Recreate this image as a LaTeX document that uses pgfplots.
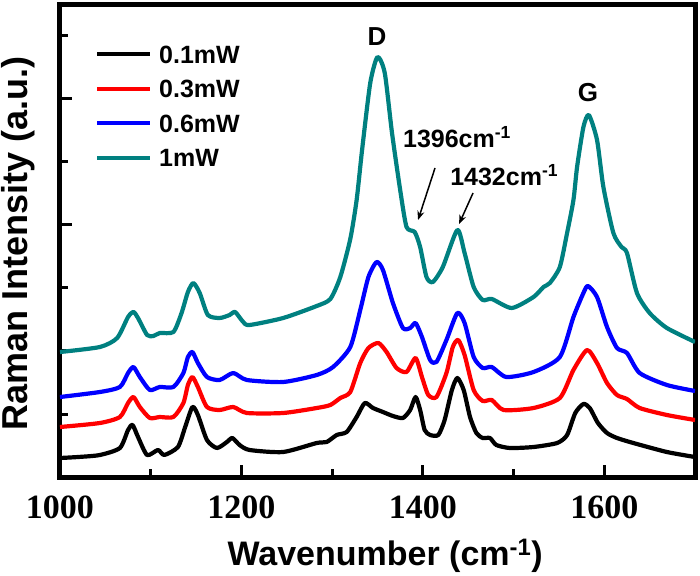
\documentclass[border=0pt]{standalone}
\usepackage{pgfplots}
\pgfplotsset{compat=1.18}
\usepackage{fontspec}
\setmainfont{Liberation Sans}
\newfontfamily\serifb{Liberation Serif}
\usetikzlibrary{arrows.meta}
\definecolor{tealc}{RGB}{0,128,128}
\begin{document}
\begin{tikzpicture}
\path[use as bounding box] (-60pt,-98pt) rectangle (640pt,477pt);
\begin{axis}[
 scale only axis, width=635pt, height=472pt,
 xmin=1000, xmax=1700, ymin=0, ymax=472,
 axis line style={line width=5pt},
 xtick={1000,1200,1400,1600}, minor xtick={1100,1300,1500},
 ytick={126,252,378}, minor ytick={63,189,315,441},
 yticklabels={},
 tick pos=left, tick align=inside,
 major tick length=12pt, minor tick length=8pt,
 tick style={black, line width=3pt},
 /pgf/number format/assume math mode=true,
 /pgf/number format/1000 sep={},
 xticklabel style={font=\serifb\bfseries\fontsize{34}{34}\selectfont, anchor=base, yshift=-41pt},
 xlabel={Wavenumber (cm\textsuperscript{-1})},
 ylabel={Raman Intensity (a.u.)},
 xlabel style={font=\bfseries\fontsize{34}{34}\selectfont, at={(axis description cs:0.512,-0.167)}, anchor=center},
 ylabel style={font=\bfseries\fontsize{36}{36}\selectfont, at={(axis description cs:-0.0654,0.4947)}, anchor=center},
 legend image code/.code={\draw[#1, line width=4pt] (0pt,0pt) -- (53pt,0pt);},
 legend cell align=left,
 legend style={at={(axis cs:1038.6,432)}, anchor=north west, draw=none, fill=none,
   inner xsep=0pt, inner ysep=0pt, row sep=16.5pt, column sep=7pt,
   font=\bfseries\fontsize{25}{25}\selectfont,
   nodes={inner sep=0pt, text height=18pt, text depth=0pt}},
 every axis plot/.append style={line width=4.2pt, line join=round, smooth, tension=0.4},
]
\addplot[black] coordinates {
(1000,19)(1020,20)(1044,22)(1066,29)(1075,47)(1080,52)(1086,40)(1096,22)(1108,27)(1115,22)
(1130,30)(1138,50)(1146,70)(1152,62)(1162,37)(1173,29)(1184,35)(1190,39)(1198,32)(1209,27)
(1246,25)(1283,34)(1294,35)(1305,42)(1316,45)(1327,60)(1336,74)(1345,69)(1356,65)(1367,61)
(1378,59)(1386,67)(1392,80)(1397,67)(1402,47)(1408,42)(1417,42)(1424,57)(1432,87)(1438,99)
(1445,87)(1452,60)(1459,44)(1466,39)(1474,39)(1481,32)(1496,29)(1522,30)(1548,34)(1559,42)
(1568,64)(1577,73)(1584,69)(1593,54)(1603,44)(1614,39)(1632,34)(1669,25)(1700,20)
};
\addlegendentry{0.1mW}
\addplot[red] coordinates {
(1000,50)(1044,54)(1066,60)(1075,74)(1081,80)(1088,70)(1099,59)(1110,60)(1125,60)(1136,74)
(1141,92)(1146,100)(1152,90)(1162,70)(1176,67)(1191,70)(1206,64)(1246,64)(1283,69)(1298,72)
(1309,79)(1320,85)(1331,114)(1340,129)(1351,134)(1360,125)(1371,109)(1382,105)(1392,119)(1399,100)
(1406,82)(1415,80)(1426,104)(1433,130)(1439,137)(1446,122)(1456,87)(1466,76)(1476,77)(1489,67)
(1522,69)(1551,79)(1566,107)(1581,127)(1592,114)(1603,94)(1614,82)(1625,78)(1639,69)(1669,62)(1700,57)
};
\addlegendentry{0.3mW}
\addplot[blue] coordinates {
(1000,80)(1044,85)(1066,90)(1075,104)(1081,110)(1088,100)(1099,87)(1110,90)(1125,90)(1136,104)
(1141,120)(1146,125)(1152,114)(1162,100)(1176,97)(1191,104)(1206,97)(1246,95)(1283,102)(1301,110)
(1320,130)(1331,167)(1340,200)(1349,215)(1356,207)(1367,174)(1378,149)(1386,149)(1392,154)(1399,140)
(1408,117)(1415,115)(1426,137)(1438,164)(1446,154)(1456,120)(1466,109)(1476,110)(1492,100)(1522,105)
(1551,120)(1566,160)(1577,184)(1582,191)(1592,180)(1603,150)(1614,129)(1625,124)(1639,104)(1669,92)(1700,86)
};
\addlegendentry{0.6mW}
\addplot[tealc] coordinates {
(1000,125)(1044,130)(1063,139)(1075,160)(1081,165)(1086,159)(1096,142)(1103,141)(1110,144)(1125,145)
(1134,164)(1141,185)(1147,194)(1154,184)(1163,162)(1176,159)(1187,162)(1193,165)(1202,155)(1209,152)
(1246,159)(1283,171)(1298,178)(1309,200)(1320,238)(1327,277)(1333,327)(1342,394)(1350,420)(1358,404)
(1366,344)(1375,287)(1382,250)(1391,245)(1397,230)(1404,200)(1411,195)(1422,210)(1438,247)(1446,224)
(1456,190)(1466,177)(1476,178)(1498,169)(1522,180)(1533,190)(1540,194)(1551,210)(1559,244)(1566,277)
(1570,310)(1577,350)(1583,362)(1592,337)(1599,290)(1610,244)(1619,230)(1625,224)(1636,184)(1650,164)
(1669,149)(1700,135)
};
\addlegendentry{1mW}
\node[font=\bfseries\fontsize{26}{26}\selectfont] at (axis cs:1349.5,440) {D};
\node[font=\bfseries\fontsize{26}{26}\selectfont] at (axis cs:1582,384) {G};
\node[font=\bfseries\fontsize{25}{25}\selectfont, anchor=base west, inner sep=0pt] at (axis cs:1378,329) {1396cm\textsuperscript{-1}};
\node[font=\bfseries\fontsize{25}{25}\selectfont, anchor=base west, inner sep=0pt] at (axis cs:1430,291) {1432cm\textsuperscript{-1}};
\draw[-{Stealth[length=9pt,width=7pt]}, line width=1.5pt] (axis cs:1413.4,309) -- (axis cs:1394.7,257);
\draw[-{Stealth[length=9pt,width=7pt]}, line width=1.5pt] (axis cs:1455.3,284) -- (axis cs:1439.9,253);
\end{axis}
\end{tikzpicture}
\end{document}
